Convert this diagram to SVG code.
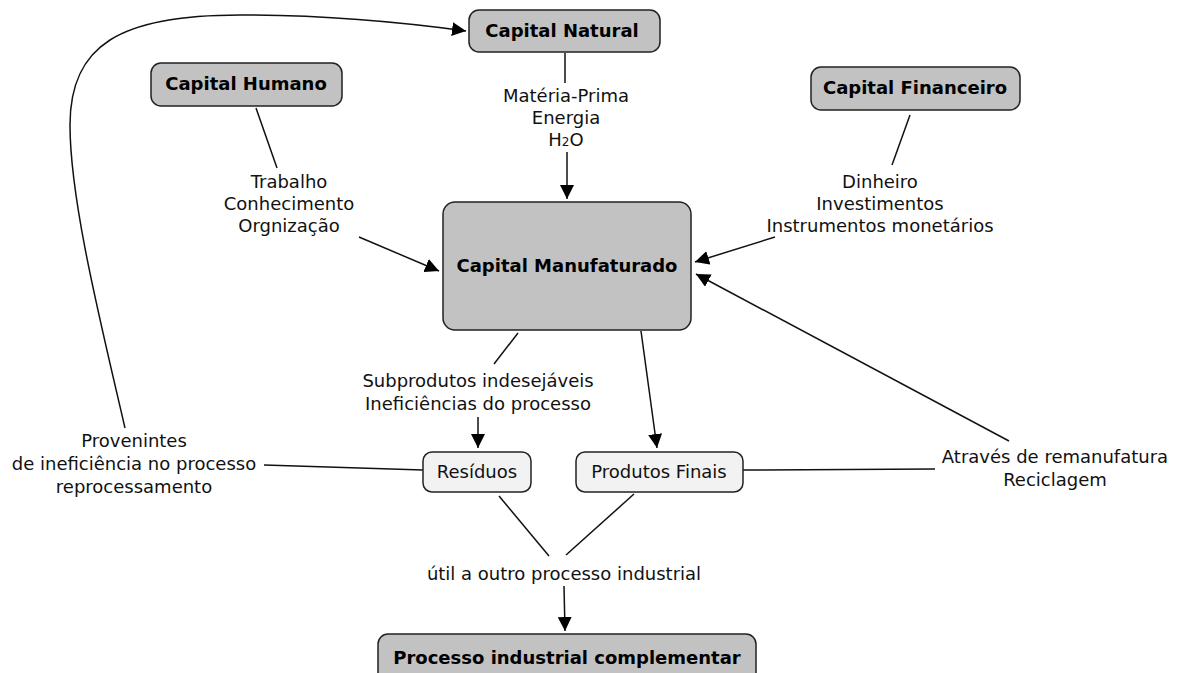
<svg xmlns="http://www.w3.org/2000/svg" width="1183" height="673" viewBox="0 0 1183 673">
<style>
.main{fill:#c2c2c2;stroke:#222;stroke-width:1.5}
.sub{fill:#f2f2f2;stroke:#222;stroke-width:1.5}
.bt{font-family:"DejaVu Sans",Verdana,sans-serif;font-size:18px;font-weight:bold;fill:#000;text-anchor:middle}
.t{font-family:"DejaVu Sans",Verdana,sans-serif;font-size:18px;fill:#111;text-anchor:middle}
.c{fill:none;stroke:#111;stroke-width:1.5}
</style>
<defs>
<marker id="ah" viewBox="0 0 14 14" refX="14" refY="7" markerWidth="14" markerHeight="14" markerUnits="userSpaceOnUse" orient="auto">
<path d="M0,0 L14,7 L0,14 Z" fill="#000"/>
</marker>
</defs>
<rect width="1183" height="673" fill="#fff"/>
<g id="connectors">
<line class="c" x1="565" y1="53" x2="565" y2="83"/>
<line class="c" x1="567" y1="152" x2="567" y2="199" marker-end="url(#ah)"/>
<line class="c" x1="256" y1="108" x2="277" y2="168"/>
<line class="c" x1="359" y1="237" x2="439" y2="271" marker-end="url(#ah)"/>
<line class="c" x1="910" y1="115" x2="892" y2="165"/>
<line class="c" x1="775" y1="237" x2="695" y2="262" marker-end="url(#ah)"/>
<line class="c" x1="1009" y1="441" x2="696" y2="274" marker-end="url(#ah)"/>
<line class="c" x1="743" y1="470" x2="935" y2="469"/>
<line class="c" x1="264" y1="465" x2="423" y2="470"/>
<path class="c" d="M125,428 C100,320 70,200 70,125 C70,45 120,15 240,15 C330,15 400,22 466,31" marker-end="url(#ah)"/>
<line class="c" x1="518" y1="333" x2="494" y2="364"/>
<line class="c" x1="478" y1="417" x2="478" y2="448" marker-end="url(#ah)"/>
<line class="c" x1="641" y1="331" x2="657" y2="448" marker-end="url(#ah)"/>
<line class="c" x1="499" y1="496" x2="549" y2="556"/>
<line class="c" x1="634" y1="494" x2="566" y2="555"/>
<line class="c" x1="564" y1="586" x2="565" y2="631" marker-end="url(#ah)"/>
</g>
<g id="capital-natural">
<rect class="main" x="469" y="10" width="191" height="42" rx="10"/>
<text class="bt" x="562" y="37">Capital Natural</text>
</g>
<g id="label-natural">
<text class="t" x="566" y="102">Matéria-Prima</text>
<text class="t" x="566" y="124">Energia</text>
<text class="t" x="566" y="146">H<tspan font-size="12px">2</tspan>O</text>
</g>
<g id="capital-humano">
<rect class="main" x="151" y="63" width="191" height="43" rx="10"/>
<text class="bt" x="246" y="90">Capital Humano</text>
</g>
<g id="label-humano">
<text class="t" x="289" y="188">Trabalho</text>
<text class="t" x="289" y="210">Conhecimento</text>
<text class="t" x="289" y="232">Orgnização</text>
</g>
<g id="capital-financeiro">
<rect class="main" x="811" y="67" width="209" height="43" rx="10"/>
<text class="bt" x="915" y="94">Capital Financeiro</text>
</g>
<g id="label-financeiro">
<text class="t" x="880" y="188">Dinheiro</text>
<text class="t" x="880" y="210">Investimentos</text>
<text class="t" x="880" y="232">Instrumentos monetários</text>
</g>
<g id="capital-manufaturado">
<rect class="main" x="443" y="202" width="248" height="128" rx="12"/>
<text class="bt" x="567" y="272">Capital Manufaturado</text>
</g>
<g id="label-subprodutos">
<text class="t" x="478" y="387">Subprodutos indesejáveis</text>
<text class="t" x="478" y="410">Ineficiências do processo</text>
</g>
<g id="residuos">
<rect class="sub" x="423" y="452" width="108" height="40" rx="9"/>
<text class="t" x="477" y="478">Resíduos</text>
</g>
<g id="produtos-finais">
<rect class="sub" x="576" y="452" width="167" height="40" rx="9"/>
<text class="t" x="659" y="478">Produtos Finais</text>
</g>
<g id="label-provenintes">
<text class="t" x="134" y="447">Provenintes</text>
<text class="t" x="134" y="470">de ineficiência no processo</text>
<text class="t" x="134" y="493">reprocessamento</text>
</g>
<g id="label-atraves">
<text class="t" x="1055" y="463">Através de remanufatura</text>
<text class="t" x="1055" y="486">Reciclagem</text>
</g>
<g id="label-util">
<text class="t" x="564" y="580">útil a outro processo industrial</text>
</g>
<g id="processo-complementar">
<rect class="main" x="378" y="634" width="378" height="50" rx="10"/>
<text class="bt" x="567" y="664">Processo industrial complementar</text>
</g>
</svg>
